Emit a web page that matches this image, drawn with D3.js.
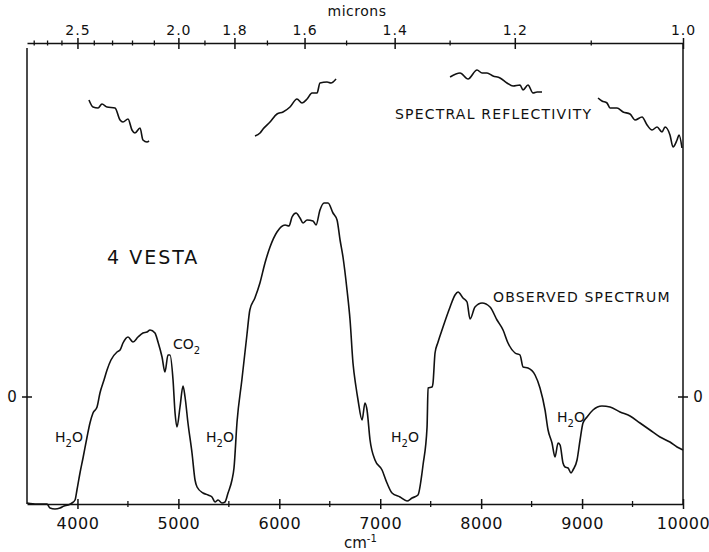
<!DOCTYPE html>
<html>
<head>
<meta charset="utf-8">
<script src="https://cdn.jsdelivr.net/npm/d3@7"></script>
<style>
  body { margin: 0; background: #fff; }
  text { font-family: "DejaVu Sans", sans-serif; fill: #111; }
</style>
</head>
<body>
<div id="chart"></div>
<script>
// observed spectrum of 4 Vesta (wavenumber cm-1, relative signal)
const obsWavenumber = [3500,3599,3698,3728,3777,3827,3867,3906,3946,3976,3995,4025,4055,4095,4124,4154,4194,4223,4263,4293,4332,4392,4422,4451,4501,4550,4600,4649,4689,4719,4768,4798,4838,4867,4897,4917,4947,4967,4986,5016,5046,5066,5095,5135,5165,5185,5244,5294,5333,5363,5393,5432,5462,5492,5531,5551,5581,5629,5679,5708,5758,5808,5858,5908,5977,6057,6096,6126,6166,6205,6235,6275,6334,6364,6403,6443,6483,6532,6572,6602,6631,6671,6701,6730,6760,6780,6820,6849,6869,6899,6948,7018,7067,7117,7196,7265,7315,7374,7414,7424,7464,7474,7513,7523,7543,7573,7622,7692,7741,7771,7820,7860,7890,7939,8009,8088,8157,8217,8266,8336,8385,8415,8464,8534,8583,8633,8663,8702,8732,8762,8782,8811,8831,8861,8891,8910,8950,8980,9009,9049,9108,9197,9277,9376,9475,9574,9673,9772,9871,9941,10000]
const obsSignal = [-1.06,-1.07,-1.07,-1.11,-1.12,-1.11,-1.09,-1.08,-1.06,-1.03,-0.93,-0.76,-0.61,-0.40,-0.26,-0.16,-0.10,0.04,0.17,0.27,0.37,0.45,0.47,0.54,0.60,0.55,0.60,0.64,0.65,0.67,0.64,0.55,0.40,0.25,0.42,0.42,0.17,-0.16,-0.30,-0.10,0.11,0.00,-0.26,-0.56,-0.83,-0.90,-0.96,-0.98,-1.00,-1.05,-1.03,-1.06,-1.05,-0.96,-0.83,-0.71,-0.25,0.17,0.62,0.87,0.99,1.14,1.34,1.50,1.65,1.72,1.71,1.80,1.84,1.79,1.74,1.77,1.76,1.72,1.87,1.94,1.94,1.84,1.77,1.57,1.40,1.07,0.77,0.34,0.10,-0.03,-0.23,-0.06,-0.13,-0.43,-0.63,-0.73,-0.86,-0.96,-1.00,-1.04,-1.01,-0.98,-0.76,-0.68,-0.30,0.09,0.10,0.14,0.44,0.55,0.70,0.90,1.02,1.05,0.99,0.95,0.78,0.90,0.94,0.90,0.77,0.67,0.54,0.44,0.42,0.30,0.29,0.22,0.09,-0.13,-0.33,-0.46,-0.60,-0.46,-0.48,-0.66,-0.70,-0.71,-0.76,-0.73,-0.63,-0.43,-0.26,-0.20,-0.13,-0.09,-0.10,-0.15,-0.19,-0.26,-0.33,-0.40,-0.45,-0.50,-0.53]

// spectral reflectivity pieces (offset, same wavenumber scale)
const refl1Wavenumber = [4114,4154,4204,4243,4293,4372,4422,4451,4501,4540,4570,4620,4649,4689,4709]
const refl1Value = [2.97,2.90,2.89,2.93,2.90,2.89,2.77,2.75,2.78,2.67,2.64,2.69,2.57,2.55,2.56]
const refl2Wavenumber = [5759,5809,5839,5908,5977,6037,6106,6175,6225,6275,6324,6374,6403,6473,6512,6562]
const refl2Value = [2.61,2.64,2.68,2.75,2.83,2.85,2.90,2.98,2.94,2.98,3.04,3.04,3.14,3.15,3.14,3.18]
const refl3Wavenumber = [7692,7791,7870,7959,8009,8058,8118,8187,8256,8316,8385,8415,8464,8514,8554,8603]
const refl3Value = [3.20,3.24,3.18,3.27,3.24,3.24,3.21,3.19,3.14,3.11,3.12,3.07,3.12,3.04,3.05,3.05]
const refl4Wavenumber = [9158,9197,9247,9277,9346,9406,9475,9525,9594,9644,9693,9743,9792,9822,9871,9901,9941,9961,9990]
const refl4Value = [2.99,2.96,2.94,2.89,2.89,2.85,2.83,2.77,2.80,2.72,2.67,2.70,2.65,2.70,2.62,2.50,2.57,2.62,2.49]

// axis ticks
const wnMajor = [4000,5000,6000,7000,8000,9000,10000]
const wnMinor = [4500,5500,6500,7500,8500,9500]
const micronMajor = [2.5,2.0,1.8,1.6,1.4,1.2,1.0]
const micronMinor = [2.8,2.7,2.6,2.4,2.3,2.2,2.1,1.9,1.7,1.5,1.3,1.1]

const width = 709
const height = 552
const margin = { left: 27, right: 683, top: 43, bottom: 504 }

const svg = d3.select("#chart").append("svg")
    .attr("width", width)
    .attr("height", height)

const x = d3.scaleLinear().domain([3500, 10000]).range([margin.left, margin.right])
const y = d3.scaleLinear().domain([-1.07, 3.54]).range([margin.bottom, margin.top])

// frame: left and right sides
svg.append("line").attr("x1", margin.left).attr("x2", margin.left).attr("y1", margin.top + 5).attr("y2", margin.bottom)
    .attr("stroke", "#111").attr("stroke-width", 1.5)
svg.append("line").attr("x1", margin.right).attr("x2", margin.right).attr("y1", margin.top).attr("y2", margin.bottom)
    .attr("stroke", "#111").attr("stroke-width", 1.5)

// bottom axis in cm-1
const xAxis = svg.append("g")
    .attr("transform", `translate(0,${margin.bottom})`)
    .call(d3.axisBottom(x).tickValues(wnMajor).tickSize(0).tickPadding(14).tickFormat(d3.format("d")))
xAxis.select(".domain").attr("stroke", "#111").attr("stroke-width", 1.5)
xAxis.selectAll(".tick line").attr("y1", -5).attr("y2", 5).attr("stroke", "#111").attr("stroke-width", 1.5)
xAxis.selectAll(".tick text").style("font-size", "16px").attr("fill", "#111").attr("letter-spacing", "0.5px")
xAxis.selectAll(".minor").data(wnMinor).enter().append("line")
    .attr("x1", d => x(d)).attr("x2", d => x(d)).attr("y1", -3).attr("y2", 3)
    .attr("stroke", "#111").attr("stroke-width", 1.3)

// top axis in microns
const topAxis = svg.append("g")
    .attr("transform", `translate(0,${margin.top})`)
    .call(d3.axisTop(x).tickValues(micronMajor.map(m => 1e4 / m)).tickSize(0).tickPadding(8)
        .tickFormat(d => d3.format(".1f")(1e4 / d)))
topAxis.select(".domain").attr("stroke", "#111").attr("stroke-width", 1.5)
topAxis.selectAll(".tick line").attr("y1", -5).attr("y2", 6).attr("stroke", "#111").attr("stroke-width", 1.5)
topAxis.selectAll(".tick text").style("font-size", "14px").attr("fill", "#111").attr("letter-spacing", "1px")
topAxis.selectAll(".minor").data(micronMinor).enter().append("line")
    .attr("x1", d => x(1e4 / d)).attr("x2", d => x(1e4 / d)).attr("y1", -2.5).attr("y2", 2.5)
    .attr("stroke", "#111").attr("stroke-width", 1.3)

// zero ticks on both sides
;[margin.left, margin.right].forEach((px, i) => {
    svg.append("line").attr("x1", px - 5).attr("x2", px + 5).attr("y1", y(0)).attr("y2", y(0))
        .attr("stroke", "#111").attr("stroke-width", 1.5)
    svg.append("text").attr("x", i === 0 ? px - 15 : px + 15).attr("y", y(0) + 5)
        .attr("text-anchor", "middle").style("font-size", "15px").text("0")
})

// axis titles
svg.append("text").attr("x", 357).attr("y", 16).attr("text-anchor", "middle")
    .style("font-size", "14px").attr("letter-spacing", "0.5px").text("microns")
const cm = svg.append("text").attr("x", 344).attr("y", 548).style("font-size", "15px")
cm.append("tspan").text("cm")
cm.append("tspan").attr("dy", -6).style("font-size", "10px").text("-1")

// curves
const line = d3.line().x(d => x(d[0])).y(d => y(d[1])).curve(d3.curveMonotoneX)
const curves = [
    d3.zip(obsWavenumber, obsSignal),
    d3.zip(refl1Wavenumber, refl1Value),
    d3.zip(refl2Wavenumber, refl2Value),
    d3.zip(refl3Wavenumber, refl3Value),
    d3.zip(refl4Wavenumber, refl4Value)
]
svg.selectAll(".curve").data(curves).enter().append("path")
    .attr("class", "curve")
    .attr("d", line)
    .attr("fill", "none")
    .attr("stroke", "#111")
    .attr("stroke-width", 1.6)
    .attr("stroke-linejoin", "round")

// annotations
const label = (tx, ty, txt, size, spacing) => svg.append("text")
    .attr("x", tx).attr("y", ty).style("font-size", size + "px")
    .attr("letter-spacing", spacing + "px").text(txt)

label(107, 264, "4 VESTA", 19, 2)
label(395, 119, "SPECTRAL REFLECTIVITY", 14, 1.2)
label(493, 302, "OBSERVED SPECTRUM", 14, 1.2)

// molecule labels with subscript
const molecule = (tx, ty, a, sub, b) => {
    const t = svg.append("text").attr("x", tx).attr("y", ty).style("font-size", "14px")
    t.append("tspan").text(a)
    t.append("tspan").attr("dy", 5).style("font-size", "10px").text(sub)
    t.append("tspan").attr("dy", -5).text(b)
}
molecule(173, 349, "CO", "2", "")
molecule(55, 442, "H", "2", "O")
molecule(206, 442, "H", "2", "O")
molecule(391, 442, "H", "2", "O")
molecule(557, 422, "H", "2", "O")
</script>
</body>
</html>
